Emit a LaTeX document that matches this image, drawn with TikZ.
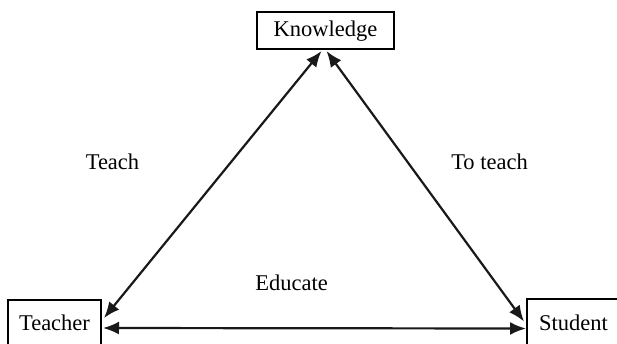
\documentclass[tikz,border=0pt]{standalone}
\usepackage{fontspec}
\setmainfont{Liberation Serif}
\usetikzlibrary{arrows.meta,calc}
\begin{document}
\begin{tikzpicture}[x=1pt,y=-1pt,
  box/.style={draw=black,line width=2pt,inner sep=0pt,text height=16pt,text depth=5pt,font=\fontsize{22.5}{27}\selectfont},
  lbl/.style={inner sep=0pt,anchor=base,font=\fontsize{22.5}{27}\selectfont},
  link/.style={line width=2.2pt,draw=black!90,{Latex[length=16pt,width=13pt]}-{Latex[length=16pt,width=13pt]}}]
\useasboundingbox (0,0) rectangle (617,343);
\node[box,minimum width=137pt,minimum height=37pt] (K) at (325.5,30.5) {Knowledge};
\node[box,minimum width=93pt,minimum height=50pt] (T) at (54.5,325) {Teacher};
\node[box,minimum width=93pt,minimum height=51pt] (S) at (573.5,324.5) {Student};
\draw[link] ($(T.east)+(2,-7)$) -- ($(K.south)+(-4,1)$);
\draw[link] ($(K.south)+(1,1)$) -- ($(S.west)+(-2,-3)$);
\draw[link] ($(T.east)+(1,3)$) -- ($(S.west)+(0,4)$);
\node[lbl] (l1) at (112.5,169) {Teach};
\node[lbl] (l2) at (489.5,169) {To teach};
\node[lbl] (l3) at (291.5,290) {Educate};
\end{tikzpicture}
\end{document}
